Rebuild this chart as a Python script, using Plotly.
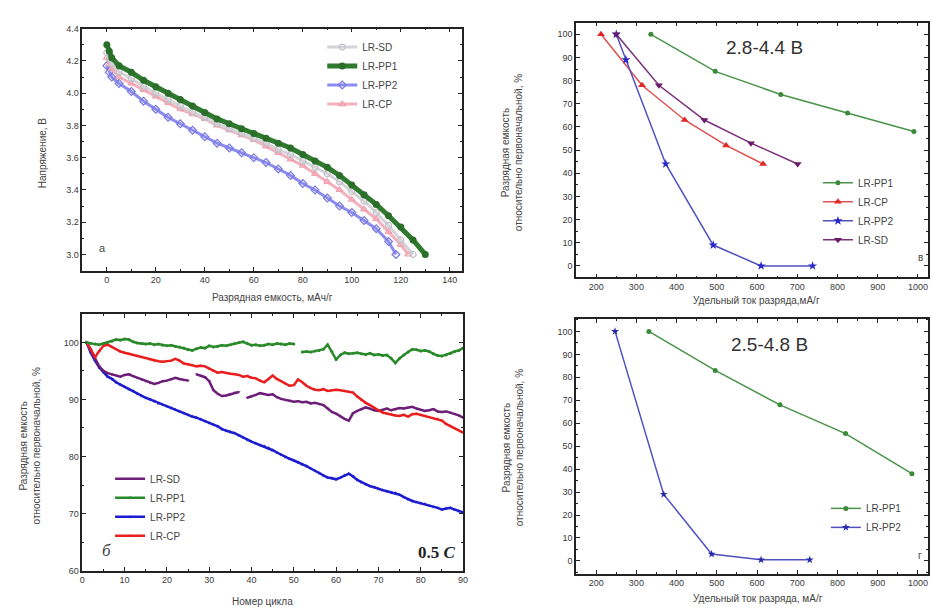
import plotly.graph_objects as go

# ---------------- Panel а: discharge curves ----------------
A_PP1_x = [0,1,2,5,10,15,20,25,30,35,40,45,50,55,60,65,70,75,80,85,90,95,100,105,110,115,120,125,130]
A_PP1_y = [4.30,4.26,4.22,4.17,4.13,4.08,4.04,4.00,3.96,3.92,3.88,3.84,3.81,3.78,3.75,3.72,3.69,3.66,3.62,3.58,3.54,3.49,3.43,3.37,3.31,3.24,3.17,3.09,3.00]
A_SD_x = [0,1,2,5,10,15,20,25,30,35,40,45,50,55,60,65,70,75,80,85,90,95,100,105,110,115,120,125]
A_SD_y = [4.25,4.21,4.18,4.13,4.09,4.04,4.00,3.96,3.92,3.88,3.85,3.81,3.78,3.75,3.72,3.69,3.65,3.62,3.58,3.54,3.50,3.45,3.39,3.33,3.26,3.18,3.09,3.00]
A_CP_x = [0,1,2,5,10,15,20,25,30,35,40,45,50,55,60,65,70,75,80,85,90,95,100,105,110,115,120,123]
A_CP_y = [4.22,4.18,4.15,4.10,4.06,4.02,3.98,3.94,3.90,3.87,3.84,3.80,3.77,3.74,3.71,3.67,3.63,3.59,3.55,3.50,3.45,3.40,3.34,3.28,3.22,3.14,3.06,3.00]
A_PP2_x = [0,1,2,5,10,15,20,25,30,35,40,45,50,55,60,65,70,75,80,85,90,95,100,105,110,115,118]
A_PP2_y = [4.17,4.13,4.10,4.06,4.01,3.95,3.90,3.85,3.81,3.77,3.73,3.69,3.66,3.63,3.60,3.57,3.53,3.49,3.44,3.40,3.35,3.30,3.26,3.21,3.16,3.08,3.00]

# ---------------- Panel в: rate capability 2.8-4.4 V ----------------
V_I_PP1 = [336, 496, 659, 825, 990]
V_PP1 = [100, 84, 74, 66, 58]
V_I_CP = [212, 314, 420, 523, 615]
V_CP = [100, 78, 63, 52, 44]
V_I_PP2 = [250, 274, 373, 491, 610, 738]
V_PP2 = [100, 89, 44, 9, 0, 0]
V_I_SD = [250, 356, 469, 585, 701]
V_SD = [100, 78, 63, 53, 44]

# ---------------- Panel г: rate capability 2.5-4.8 V ----------------
G_I_PP1 = [331, 496, 657, 820, 985]
G_PP1 = [100, 83, 68, 55.5, 38]
G_I_PP2 = [247, 368, 487, 610, 731]
G_PP2 = [100, 29, 3, 0.5, 0.5]

# ---------------- Panel б: cycling at 0.5C ----------------
CYCLES = list(range(1, 91))
B_PP1 = [100, 99.8, 99.7, 99.6, 99.8, 100, 100.2,
         100.5, 100.4, 100.6, 100.5, 100.1, 99.9, 99.8, 99.7,
         99.8, 99.6, 99.7, 99.5, 99.4, 99.5, 99.3, 99.2, 99.0, 98.7,
         98.6, 98.9, 99.1, 99.0, 99.4, 99.2, 99.3, 99.5, 99.4, 99.6,
         99.8, 100.0, 100.1, 99.8, 99.5, 99.6, 99.4, 99.5, 99.7, 99.6,
         99.8, 99.7, 99.6, 99.8, 99.7,
         None,
         98.3, 98.4, 98.3, 98.5, 98.6, 98.8, 99.6, 98.4, 97.0,
         97.8, 98.2, 98.0, 98.1, 98.2, 98.0, 97.9, 98.1, 97.8, 97.9,
         97.7, 97.8, 97.2, 96.4, 97.2, 97.8, 98.3, 98.8, 98.7, 98.5,
         98.6, 98.4, 98.0, 97.7, 97.6, 97.8, 98.1, 98.4, 98.6, 99.0]
B_CP = [100, 98.8, 97.4, 98.5, 99.4, 99.6, 99.2, 98.8, 98.4, 98.2,
        98.0, 97.8, 97.6, 97.4, 97.2, 97.0, 96.8, 96.7, 96.6, 96.7,
        96.8, 97.1, 96.8, 96.3, 96.2, 96.0, 95.8, 95.9, 95.8, 95.4,
        95.0, 94.7, 94.8, 94.6, 94.5, 94.4, 94.3, 94.0, 94.1, 93.8,
        93.7, 93.3, 93.0, 93.6, 94.2, 93.6, 93.2, 92.8, 92.4, 92.5,
        93.5, 93.0, 92.4, 92.0, 91.7, 91.6, 91.8, 91.5, 91.6, 91.7,
        91.6, 91.5, 91.4, 91.2, 90.5, 89.9, 89.4, 89.0, 88.5, 88.1,
        87.7, 87.5, 87.4, 87.2, 87.1, 87.3, 87.0, 87.4, 87.5, 87.3,
        87.1, 86.9, 86.7, 86.6, 86.3, 85.7, 85.3, 85.0, 84.6, 84.2]
B_SD = [100, 98.8, 97.2, 95.8, 95.0, 94.6, 94.4, 94.2, 94.0, 94.3,
        94.4, 94.1, 93.8, 93.5, 93.2, 92.9, 92.7, 92.9, 93.2, 93.3,
        93.5, 93.8, 93.6, 93.4, 93.3,
        None,
        94.4, 94.2, 93.9, 93.2, 91.6, 91.0, 90.6, 90.7, 90.9, 91.2, 91.3,
        None,
        90.3, 90.5, 90.8, 91.1, 91.0, 90.8, 90.9,
        90.4, 90.1, 89.9, 89.8, 89.6, 89.7, 89.5, 89.6, 89.3, 89.4,
        89.2, 89.0, 88.4, 87.8, 87.5, 87.0, 86.6, 86.3, 87.6, 88.0,
        88.3, 88.6, 88.4, 88.1, 88.0, 88.2, 88.4, 88.1, 88.3, 88.5,
        88.4, 88.6, 88.7, 88.4, 88.2, 88.0, 88.1, 88.3, 87.9, 87.8,
        87.9, 87.7, 87.5, 87.2, 86.8]
B_PP2 = [100, 98.2, 96.8, 95.6, 94.8, 94.0, 93.6, 93.0, 92.6, 92.2,
         91.8, 91.5, 91.0, 90.6, 90.3, 90.0, 89.7, 89.3, 89.1, 88.8,
         88.5, 88.2, 87.9, 87.6, 87.3, 87.0, 86.8, 86.5, 86.2, 85.9,
         85.6, 85.3, 84.8, 84.5, 84.3, 84.1, 83.7, 83.3, 82.9, 82.6,
         82.3, 82.0, 81.8, 81.5, 81.1, 80.7, 80.3, 79.9, 79.6, 79.3,
         79.0, 78.6, 78.3, 77.9, 77.5, 77.1, 76.6, 76.3, 76.2, 76.0,
         76.3, 76.7, 77.0, 76.5, 75.9, 75.5, 75.1, 74.8, 74.6, 74.3,
         74.1, 73.9, 73.7, 73.6, 73.3, 72.9, 72.5, 72.2, 72.0, 71.8,
         71.7, 71.4, 71.2, 71.0, 70.7, 70.9, 71.0, 70.7, 70.4, 70.2]

FONT = "Liberation Sans, Arial, sans-serif"
TICKC = "#3a3a3a"

fig = go.Figure()

# ---- panel а traces
fig.add_trace(go.Scatter(x=A_PP2_x, y=A_PP2_y, mode="lines+markers", name="LR-PP2",
    line=dict(color="#8c8cf0", width=3), marker=dict(symbol="diamond-open", size=6, color="#7878e0", line=dict(width=1.2)),
    xaxis="x", yaxis="y", legend="legend", legendrank=3))
fig.add_trace(go.Scatter(x=A_CP_x, y=A_CP_y, mode="lines+markers", name="LR-CP",
    line=dict(color="#f4b0bc", width=3), marker=dict(symbol="triangle-up-open", size=6, color="#f0a0b0", line=dict(width=1.2)),
    xaxis="x", yaxis="y", legend="legend", legendrank=4))
fig.add_trace(go.Scatter(x=A_SD_x, y=A_SD_y, mode="lines+markers", name="LR-SD",
    line=dict(color="#d4d4d8", width=3), marker=dict(symbol="circle-open", size=6, color="#c0c0c8", line=dict(width=1.2)),
    xaxis="x", yaxis="y", legend="legend", legendrank=1))
fig.add_trace(go.Scatter(x=A_PP1_x, y=A_PP1_y, mode="lines+markers", name="LR-PP1",
    line=dict(color="#2f7a2f", width=5), marker=dict(symbol="circle", size=7, color="#2a6e2a"),
    xaxis="x", yaxis="y", legend="legend", legendrank=2))

# ---- panel в traces
fig.add_trace(go.Scatter(x=V_I_PP1, y=V_PP1, mode="lines+markers", name="LR-PP1",
    line=dict(color="#4a944a", width=1.5), marker=dict(symbol="circle", size=5, color="#3a8a3a"),
    xaxis="x2", yaxis="y2", legend="legend2", legendrank=1))
fig.add_trace(go.Scatter(x=V_I_CP, y=V_CP, mode="lines+markers", name="LR-CP",
    line=dict(color="#e05050", width=1.5), marker=dict(symbol="triangle-up", size=7, color="#e02828"),
    xaxis="x2", yaxis="y2", legend="legend2", legendrank=2))
fig.add_trace(go.Scatter(x=V_I_PP2, y=V_PP2, mode="lines+markers", name="LR-PP2",
    line=dict(color="#5050c0", width=1.5), marker=dict(symbol="star", size=7, color="#2828c8"),
    xaxis="x2", yaxis="y2", legend="legend2", legendrank=3))
fig.add_trace(go.Scatter(x=V_I_SD, y=V_SD, mode="lines+markers", name="LR-SD",
    line=dict(color="#7a307a", width=1.5), marker=dict(symbol="triangle-down", size=7, color="#6a1a6a"),
    xaxis="x2", yaxis="y2", legend="legend2", legendrank=4))

# ---- panel б traces
fig.add_trace(go.Scatter(x=CYCLES, y=B_PP2, mode="lines+markers", name="LR-PP2",
    line=dict(color="#1c1cd0", width=2.5), marker=dict(symbol="star", size=3, color="#1c1cd0"),
    xaxis="x3", yaxis="y3", legend="legend3", legendrank=3))
fig.add_trace(go.Scatter(x=CYCLES, y=B_SD, mode="lines+markers", name="LR-SD",
    line=dict(color="#6c1e78", width=2.5), marker=dict(symbol="triangle-down", size=3, color="#6c1e78"),
    xaxis="x3", yaxis="y3", legend="legend3", legendrank=1))
fig.add_trace(go.Scatter(x=CYCLES, y=B_CP, mode="lines+markers", name="LR-CP",
    line=dict(color="#ea1e1e", width=2.5), marker=dict(symbol="triangle-up", size=3, color="#ea1e1e"),
    xaxis="x3", yaxis="y3", legend="legend3", legendrank=4))
fig.add_trace(go.Scatter(x=CYCLES, y=B_PP1, mode="lines+markers", name="LR-PP1",
    line=dict(color="#2a8a2a", width=2.5), marker=dict(symbol="circle", size=3, color="#2a8a2a"),
    xaxis="x3", yaxis="y3", legend="legend3", legendrank=2))

# ---- panel г traces
fig.add_trace(go.Scatter(x=G_I_PP1, y=G_PP1, mode="lines+markers", name="LR-PP1",
    line=dict(color="#4a944a", width=1.5), marker=dict(symbol="circle", size=5, color="#3a8a3a"),
    xaxis="x4", yaxis="y4", legend="legend4", legendrank=1))
fig.add_trace(go.Scatter(x=G_I_PP2, y=G_PP2, mode="lines+markers", name="LR-PP2",
    line=dict(color="#5050c0", width=1.5), marker=dict(symbol="star", size=6, color="#2828a8"),
    xaxis="x4", yaxis="y4", legend="legend4", legendrank=2))


def ax(domain, rng, dtick, minor, anchor, tick0=None):
    d = dict(domain=domain, range=rng, dtick=dtick, showline=True, linecolor="#222", linewidth=1.5,
             mirror="ticks", ticks="inside", ticklen=4, tickwidth=1, tickcolor="#222",
             minor=dict(dtick=minor, ticks="inside", ticklen=2, tickcolor="#222"),
             showgrid=False, zeroline=False, anchor=anchor,
             tickfont=dict(family=FONT, size=9, color=TICKC))
    if tick0 is not None:
        d["tick0"] = tick0
    return d


W, H = 933, 612
def px_x(v):
    return v / W
def px_y(v):
    return 1 - v / H

layout = dict(
    width=W, height=H, margin=dict(l=0, r=0, t=0, b=0),
    paper_bgcolor="white", plot_bgcolor="white",
    font=dict(family=FONT, color="#333"),
    xaxis=ax([px_x(80), px_x(463)], [-10, 145], 20, 10, "y", 0),
    yaxis=ax([px_y(270), px_y(24)], [2.9, 4.4], 0.2, 0.1, "x", 3.0),
    xaxis2=ax([px_x(578), 1.0], [150, 1025], 100, 50, "y2", 200),
    yaxis2=ax([px_y(277), px_y(18)], [-5, 105], 10, 5, "x2", 0),
    xaxis3=ax([px_x(80), px_x(464)], [0, 90], 10, 5, "y3", 0),
    yaxis3=ax([px_y(575), px_y(314)], [60, 105], 10, 5, "x3", 60),
    xaxis4=ax([px_x(578), 1.0], [150, 1025], 100, 50, "y4", 200),
    yaxis4=ax([px_y(578), px_y(319)], [-5.5, 105.5], 10, 5, "x4", 0),
    showlegend=True,
)
layout["yaxis"]["tickformat"] = ".1f"

leg_common = dict(bgcolor="rgba(0,0,0,0)", font=dict(family=FONT, size=10, color="#444"),
                  tracegroupgap=0, itemwidth=30, traceorder="normal", xanchor="left", yanchor="top")
layout["legend"] = dict(x=px_x(322), y=px_y(28), **leg_common)
layout["legend2"] = dict(x=px_x(822), y=px_y(166), **leg_common)
layout["legend3"] = dict(x=px_x(108), y=px_y(467), **leg_common)
layout["legend4"] = dict(x=px_x(830), y=px_y(497), **leg_common)

fig.update_layout(**layout)

def note(text, x, y, size=10, angle=0, family=FONT, color="#444", **kw):
    fig.add_annotation(text=text, x=px_x(x), y=px_y(y), xref="paper", yref="paper",
                       showarrow=False, textangle=angle, font=dict(family=family, size=size, color=color),
                       xanchor="center", yanchor="middle", **kw)

YT2 = "Разрядная емкость<br>относительно первоначальной, %"
# axis titles
note("Напряжение, В", 40, 150, 10, -90)
note("Разрядная емкость, мАч/г", 272, 297, 10)
note(YT2, 513, 150, 10, -90)
note("Удельный ток разряда,мА/г", 760, 300, 10)
note(YT2, 27, 448, 10, -90)
note("Номер цикла", 262, 606, 10)
note(YT2, 514, 450, 10, -90)
note("Удельный ток разряда, мА/г", 762, 603, 10)

# panel labels
note("2.8-4.4 В", 768, 43, 19, color="#333")
note("2.5-4.8 В", 773, 345, 19, color="#333")
note("а", 100, 247, 11)
note("в", 925, 257, 10)
note("<i>б</i>", 104, 555, 17, family="Liberation Serif, Times New Roman, serif")
note("<b>0.5 <i>C</i></b>", 438, 557, 17, family="Liberation Serif, Times New Roman, serif", color="#222")
note("г", 925, 560, 10)

fig.write_html("out.html")
